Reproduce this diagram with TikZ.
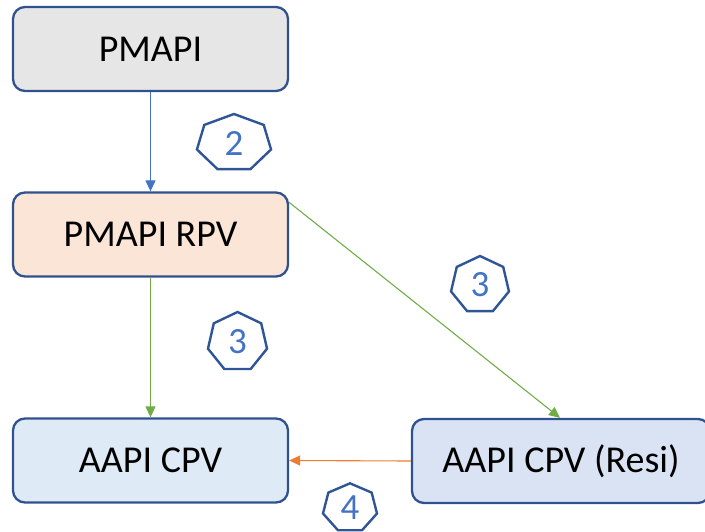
\documentclass[tikz,border=0pt]{standalone}
\usepackage{fontspec}
\setmainfont{Carlito}
\usetikzlibrary{arrows.meta}
\definecolor{boxline}{HTML}{2F528F}
\definecolor{heptline}{HTML}{2F5597}
\definecolor{digitblue}{HTML}{4472C4}
\definecolor{arrblue}{HTML}{4472C4}
\definecolor{arrgreen}{HTML}{70AD47}
\definecolor{arrorange}{HTML}{ED7D31}
\definecolor{fillgray}{HTML}{E7E6E6}
\definecolor{fillpeach}{HTML}{FBE5D6}
\definecolor{fillblue}{HTML}{DEEBF7}
\definecolor{fillblueb}{HTML}{DAE3F3}
\tikzset{
  box/.style={draw=boxline, line width=2.3pt, rounded corners=12pt, minimum height=84pt,
    inner sep=0pt, font=\fontsize{38}{40}\selectfont, text=black},
  conn/.style={line width=1.1pt, -{Triangle[length=11pt,width=10pt]}},
  digit/.style={inner sep=0pt, font=\fontsize{37}{40}\selectfont, text=digitblue},
  heptagon/.style={draw=heptline, line width=2.4pt, line join=miter},
}
\newcommand{\hepta}[6]{%
  \node[digit] (#1) at (#2,#3) {#6};
  \begin{scope}[shift={(#1.center)}, x=#4pt, y=#5pt]
    \draw[heptagon] (90:1) -- (141.43:1) -- (192.86:1) -- (244.29:1) -- (295.71:1) -- (347.14:1) -- (38.57:1) -- cycle;
  \end{scope}}
\begin{document}
\begin{tikzpicture}[x=1pt, y=-1pt]
\useasboundingbox (0,0) rectangle (705,531);
\clip (0,0) rectangle (705,531);
\node[box, fill=fillgray, minimum width=275pt] (pmapi) at (150.5,49) {PMAPI};
\node[box, fill=fillpeach, minimum width=275pt] (rpv) at (150.5,234.5) {PMAPI RPV};
\node[box, fill=fillblue, minimum width=275pt] (cpv) at (150.5,460.5) {AAPI CPV};
\node[box, fill=fillblueb, minimum width=298pt] (resi) at (561,461) {AAPI CPV (Resi)};
\draw[conn, arrblue] (pmapi.south) -- (rpv.north);
\draw[conn, arrgreen] (rpv.south) -- (cpv.north);
\draw[conn, arrgreen] ([yshift=-11pt]rpv.north east) -- ([xshift=-1pt]resi.north);
\draw[conn, arrorange] (resi.west) -- (cpv.east);
\hepta{h2}{234}{143}{38}{29}{2}
\hepta{h3a}{237.5}{342}{30.3}{30}{3}
\hepta{h3b}{480}{285}{29.7}{29}{3}
\hepta{h4}{350}{508}{27.7}{24.7}{4}
\end{tikzpicture}
\end{document}
